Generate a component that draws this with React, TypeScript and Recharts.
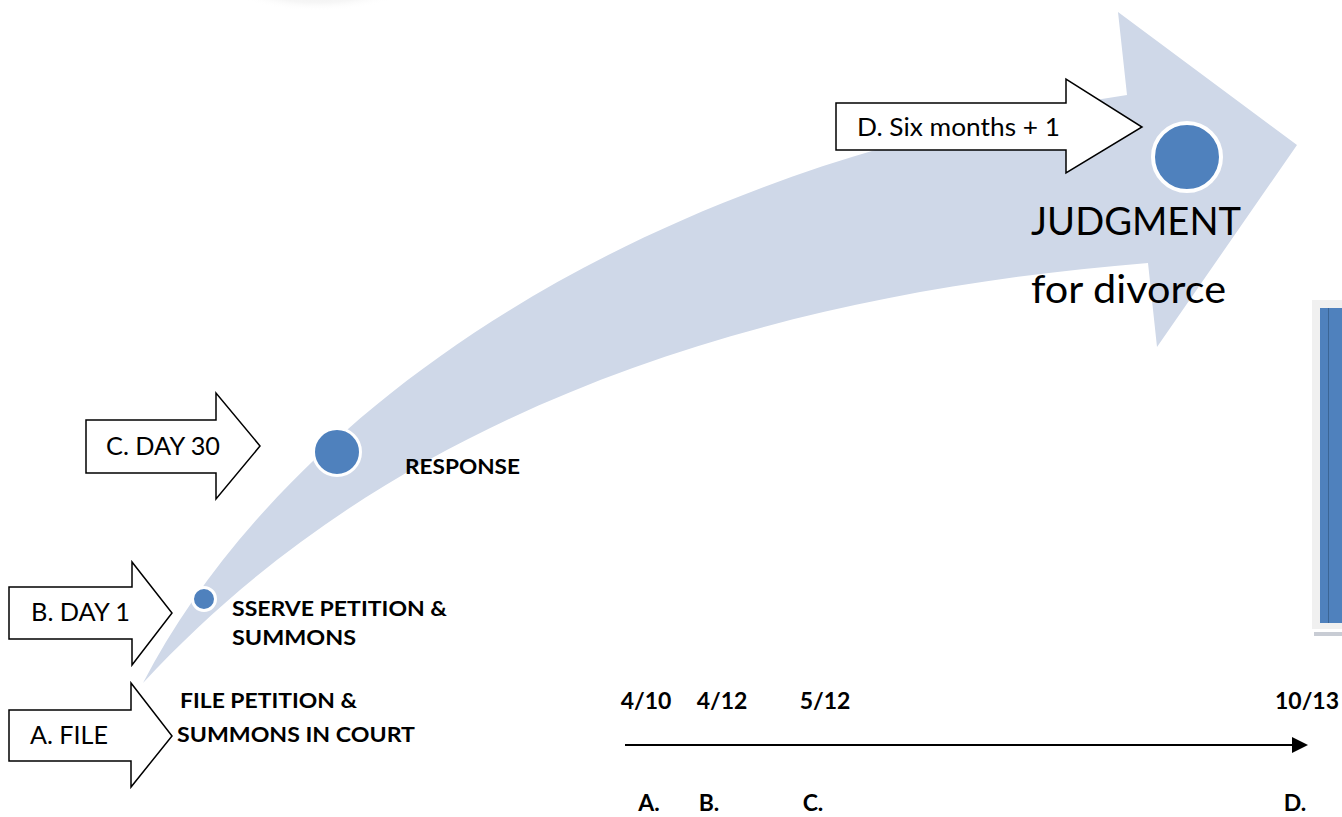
import React from 'react';
import { ComposedChart, XAxis, YAxis, Scatter, Customized } from 'recharts';

const W = 1342;
const H = 817;

// ---- data ----
const stepCodes = ['A.', 'B.', 'C.', 'D.'];
const stepDates = ['4/10', '4/12', '5/12', '10/13'];
const calloutLabels = ['A. FILE', 'B. DAY 1', 'C. DAY 30', 'D. Six months + 1'];
const eventLines = [
  ['FILE PETITION &', 'SUMMONS IN COURT'],
  ['SSERVE PETITION &', 'SUMMONS'],
  ['RESPONSE'],
  ['JUDGMENT', 'for divorce'],
];
// where each step letter sits on the uneven timeline axis (chart units)
const timelineX = [649, 709, 813, 1295];
// where each date label sits on the timeline axis (chart units)
const dateX = [646, 722, 825, 1307];
const timelineY = 745;
// where each milestone sits along the curved path (chart units)
const pathX = [143, 204, 337, 1187];
const pathY = [683, 599, 452, 157];

// ---- layout / style (not data) ----
const FONT = "Lato, 'Open Sans', sans-serif";
const ARROW_FILL = '#CFD8E8';
const DOT_FILL = '#4F81BD';
const DOT_R = [0, 10, 22, 32];

const CALLOUT_GEOM = [
  { x0: 9, y0: 710, y1: 761, hx: 131, ht: 683, hb: 787, tip: 172, ty: 736, tx: 30, tb: 744, tw: 78, fs: 25 },
  { x0: 9, y0: 587, y1: 639, hx: 132, ht: 562, hb: 665, tip: 172, ty: 613, tx: 31, tb: 621, tw: 99, fs: 25 },
  { x0: 86, y0: 420, y1: 473, hx: 216, ht: 393, hb: 499, tip: 260, ty: 446, tx: 106, tb: 455, tw: 114, fs: 25 },
  { x0: 836, y0: 103, y1: 150, hx: 1066, ht: 79, hb: 173, tip: 1142, ty: 127, tx: 857, tb: 136, tw: 203, fs: 25 },
];

const EVENT_GEOM = [
  { lines: [{ x: 180, b: 708, w: 177 }, { x: 177, b: 742, w: 238 }], fs: 20, bold: true },
  { lines: [{ x: 232, b: 616, w: 215 }, { x: 232, b: 645, w: 124 }], fs: 20, bold: true },
  { lines: [{ x: 405, b: 474, w: 115 }], fs: 20, bold: true },
  { lines: [{ x: 1031, b: 235, w: 210 }, { x: 1031, b: 303, w: 195 }], fs: 38, bold: false },
];

const milestoneData = pathX.map((x, i) => ({ x, y: pathY[i], i }));
const timelineData = timelineX.map((x, i) => ({ x, y: timelineY, i }));
const dateData = dateX.map((x, i) => ({ x, y: timelineY, i }));

const Background = () => (
  <g>
    <defs>
      <radialGradient id="topShadow" cx="50%" cy="45%" r="50%">
        <stop offset="0%" stopColor="#e6e6e6" stopOpacity={1} />
        <stop offset="70%" stopColor="#f4f4f4" stopOpacity={0.8} />
        <stop offset="100%" stopColor="#ffffff" stopOpacity={0} />
      </radialGradient>
    </defs>
    <ellipse cx={318} cy={-14} rx={92} ry={28} fill="url(#topShadow)" />
    <path
      d="M143,683 C280,420 620,170 1127,95 L1118,12 L1297,145 L1157,347 L1148,263 C750,295 390,415 143,683 Z"
      fill={ARROW_FILL}
    />
    <rect x={1312} y={300} width={30} height={329} fill="#F0F0F0" />
    <rect x={1320} y={308} width={22} height={315} fill="#4F81BD" />
    <line x1={1328.5} y1={308} x2={1328.5} y2={623} stroke="#3B6595" strokeWidth={1} />
    <rect x={1314} y={632} width={28} height={4} fill="#c8ccd4" />
  </g>
);

const Callouts = () => (
  <g>
    {CALLOUT_GEOM.map((g, i) => (
      <g key={i}>
        <polygon
          points={`${g.x0},${g.y0} ${g.hx},${g.y0} ${g.hx},${g.ht} ${g.tip},${g.ty} ${g.hx},${g.hb} ${g.hx},${g.y1} ${g.x0},${g.y1}`}
          fill="#fff"
          stroke="#000"
          strokeWidth={1.5}
          strokeLinejoin="miter"
        />
        <text x={g.tx} y={g.tb} fontFamily={FONT} fontSize={g.fs} fill="#000" textLength={g.tw} lengthAdjust="spacingAndGlyphs">
          {calloutLabels[i]}
        </text>
      </g>
    ))}
    {EVENT_GEOM.map((g, i) => (
      <g key={'e' + i}>
        {g.lines.map((l, j) => (
          <text
            key={j}
            x={l.x}
            y={l.b}
            fontFamily={FONT}
            fontSize={g.fs}
            fontWeight={g.bold ? 700 : 400}
            fill="#000"
            textLength={l.w}
            lengthAdjust="spacingAndGlyphs"
          >
            {eventLines[i][j]}
          </text>
        ))}
      </g>
    ))}
    <line x1={625} y1={timelineY} x2={1294} y2={timelineY} stroke="#000" strokeWidth={2} />
    <polygon points={`1292,${timelineY - 8} 1308,${timelineY} 1292,${timelineY + 8}`} fill="#000" />
  </g>
);

const MilestoneDot = (props: any) => {
  const { cx, cy, payload } = props;
  const r = DOT_R[payload.i];
  if (!r) return <g />;
  const ring = payload.i === 3 ? 4 : 3;
  return <circle cx={cx} cy={cy} r={r + ring / 2} fill={DOT_FILL} stroke="#fff" strokeWidth={ring} />;
};

const LetterMark = (props: any) => {
  const { cx, cy, payload } = props;
  return (
    <text x={cx} y={cy + 66} textAnchor="middle" fontFamily={FONT} fontWeight={700} fontSize={23} fill="#000">
      {stepCodes[payload.i]}
    </text>
  );
};

const DateMark = (props: any) => {
  const { cx, cy, payload } = props;
  return (
    <text x={cx} y={cy - 36} textAnchor="middle" fontFamily={FONT} fontWeight={700} fontSize={23} fill="#000">
      {stepDates[payload.i]}
    </text>
  );
};

export default function App() {
  return (
    <div style={{ position: 'absolute', left: 0, top: 0, width: W, height: H, background: '#fff', overflow: 'hidden' }}>
      <ComposedChart width={W} height={H} margin={{ top: 0, right: 0, bottom: 0, left: 0 }}>
        <XAxis type="number" dataKey="x" domain={[0, W]} hide allowDataOverflow />
        <YAxis type="number" dataKey="y" domain={[0, H]} reversed hide allowDataOverflow />
        <Customized component={Background} />
        <Scatter data={milestoneData} shape={MilestoneDot} isAnimationActive={false} />
        <Customized component={Callouts} />
        <Scatter data={timelineData} shape={LetterMark} isAnimationActive={false} />
        <Scatter data={dateData} shape={DateMark} isAnimationActive={false} />
      </ComposedChart>
    </div>
  );
}
